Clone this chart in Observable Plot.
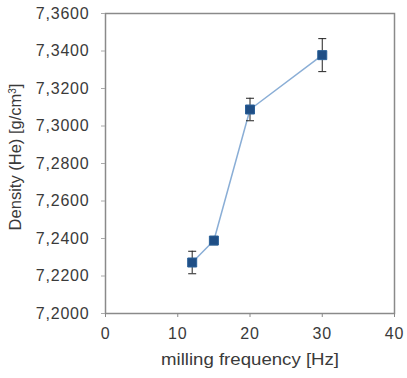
<!DOCTYPE html>
<html><head><meta charset="utf-8">
<script src="https://cdn.jsdelivr.net/npm/d3@7"></script>
<script src="https://cdn.jsdelivr.net/npm/@observablehq/plot@0.6"></script>
<style>
html,body{margin:0;padding:0;background:#fff;}
</style>
</head><body>
<div id="chart"></div>
<script>
const freq = [12, 15, 20, 30];
const density = [7.2272, 7.2389, 7.3088, 7.3378];
const errs = [0.0060, 0.0022, 0.0060, 0.0088];
const yTicks = [7.20, 7.22, 7.24, 7.26, 7.28, 7.30, 7.32, 7.34, 7.36];
const xTicks = [0, 10, 20, 30, 40];

const data = freq.map((f, i) => ({f, d: density[i], lo: density[i] - errs[i], hi: density[i] + errs[i]}));
const capSymbol = {draw(ctx, size) { const w = 4; ctx.moveTo(-w, 0); ctx.lineTo(w, 0); }};
const squareSymbol = {draw(ctx, size) { const s = 4.5; ctx.moveTo(-s,-s); ctx.lineTo(s,-s); ctx.lineTo(s,s); ctx.lineTo(-s,s); ctx.closePath(); }};
const fmt = d => d.toFixed(4).replace(".", ",");

const chart = Plot.plot({
  width: 407, height: 378,
  marginLeft: 105, marginRight: 13, marginTop: 13, marginBottom: 65,
  style: {fontFamily: "'Liberation Sans', Arial, sans-serif", fontSize: "16px", color: "#333", background: "#fff"},
  x: {domain: [0, 40], label: null},
  y: {domain: [7.20, 7.36], label: null},
  marks: [
    Plot.frame({stroke: "#8a8a8a", strokeWidth: 1.5}),
    Plot.axisY({ticks: yTicks, tickSize: 4, tickPadding: 12, stroke: "#aaa", fill: "#3a3a3a",
      tickFormat: fmt, label: null}),
    Plot.axisX({ticks: xTicks, tickSize: 4, tickPadding: 10, stroke: "#888", fill: "#3a3a3a", label: null}),
    Plot.line(data, {x: "f", y: "d", stroke: "#8aaed6", strokeWidth: 1.5}),
    Plot.ruleX(data, {x: "f", y1: "lo", y2: "hi", stroke: "#222", strokeWidth: 1}),
    Plot.dot(data, {x: "f", y: "lo", symbol: capSymbol, stroke: "#222", strokeWidth: 1, r: 4}),
    Plot.dot(data, {x: "f", y: "hi", symbol: capSymbol, stroke: "#222", strokeWidth: 1, r: 4}),
    Plot.dot(data, {x: "f", y: "d", symbol: squareSymbol, fill: "#1f4e85", stroke: "#2a6099", strokeWidth: 1, r: 4.5})
  ]
});

const svg = d3.select(chart);
svg.selectAll("g[aria-label='y-axis tick label'] text, g[aria-label='x-axis tick label'] text")
  .style("letter-spacing", "0.8px");
svg.append("text")
  .attr("x", 250).attr("y", 365)
  .attr("text-anchor", "middle")
  .attr("fill", "#3a3a3a")
  .attr("textLength", 178).attr("lengthAdjust", "spacingAndGlyphs")
  .style("font-size", "17px")
  .text("milling frequency [Hz]");
const yt = svg.append("text")
  .attr("transform", "translate(21,157) rotate(-90)")
  .attr("text-anchor", "middle")
  .attr("fill", "#3a3a3a")
  .style("font-size", "16.5px");
yt.append("tspan").text("Density (He) [g/cm");
yt.append("tspan").attr("baseline-shift", "super").style("font-size", "10px").text("3");
yt.append("tspan").text("]");

document.getElementById("chart").appendChild(chart);
</script>
</body></html>
